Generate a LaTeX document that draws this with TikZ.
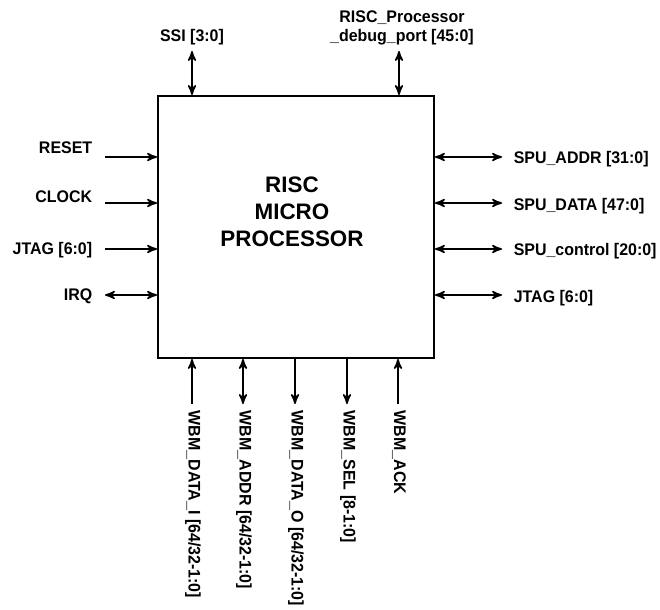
\documentclass[tikz,border=0pt]{standalone}
\usepackage{fontspec}
\setmainfont{Liberation Sans}
\newfontfamily\pinfont{Liberation Sans}[FakeStretch=0.95]
\usetikzlibrary{arrows}

\begin{document}
\begin{tikzpicture}[x=0.5pt, y=-0.5pt, >=stealth', line width=0.8pt]
\useasboundingbox (0,0) rectangle (660,610);

% the processor block
\node[draw, line width=1pt, inner sep=0pt, minimum width=138pt, minimum height=131pt,
      anchor=north west] (cpu) at (157,95) {};
\node[font=\bfseries\fontsize{11.2}{13.4}\selectfont, align=center] (title) at (292,212)
      {RISC\\MICRO\\PROCESSOR};

\tikzstyle{every node}=[inner sep=0pt, font=\pinfont\bfseries\fontsize{8.4}{9.6}\selectfont]

% left side
\draw    (93,  148)   node[anchor=east] (reset)  {RESET}
         (93,  197)   node[anchor=east] (clock)  {CLOCK}
         (93,  250)   node[anchor=east] (jtagin) {JTAG [6:0]}
         (93,  296)   node[anchor=east] (irq)    {IRQ};

\coordinate (resetEnd)  at (105, 157);
\coordinate (clockEnd)  at (105, 203);
\coordinate (jtaginEnd) at (105, 249);
\coordinate (irqEnd)    at (105, 295);

\draw[->]  (resetEnd)  -- (resetEnd -| cpu.west);
\draw[->]  (clockEnd)  -- (clockEnd -| cpu.west);
\draw[->]  (jtaginEnd) -- (jtaginEnd -| cpu.west);
\draw[<->] (irqEnd)    -- (irqEnd -| cpu.west);

% right side
\draw    (513, 159)   node[anchor=west] (spuaddr) {SPU\_ADDR [31:0]}
         (513, 206)   node[anchor=west] (spudata) {SPU\_DATA [47:0]}
         (513, 251)   node[anchor=west] (spuctrl) {SPU\_control [20:0]}
         (513, 298)   node[anchor=west] (jtagout) {JTAG [6:0]};

\coordinate (spuaddrEnd) at (502, 157);
\coordinate (spudataEnd) at (502, 203);
\coordinate (spuctrlEnd) at (502, 249);
\coordinate (jtagoutEnd) at (502, 295);

\draw[<->] (spuaddrEnd -| cpu.east) -- (spuaddrEnd);
\draw[<->] (spudataEnd -| cpu.east) -- (spudataEnd);
\draw[<->] (spuctrlEnd -| cpu.east) -- (spuctrlEnd);
\draw[<->] (jtagoutEnd -| cpu.east) -- (jtagoutEnd);

% top side
\draw    (192, 37)    node (ssi)   {SSI [3:0]}
         (402, 28)    node[align=center] (debug) {RISC\_Processor\\\_debug\_port [45:0]};

\coordinate (ssiEnd)   at (192, 51);
\coordinate (debugEnd) at (399, 51);

\draw[<->] (ssiEnd)   -- (ssiEnd |- cpu.north);
\draw[<->] (debugEnd) -- (debugEnd |- cpu.north);

% bottom side
\tikzstyle{every node}=[inner sep=0pt, rotate=-90, anchor=west,
                        font=\pinfont\bfseries\fontsize{8.4}{9.6}\selectfont]
\draw    (193, 410)   node (wbmdatai) {WBM\_DATA\_I [64/32-1:0]}
         (244, 410)   node (wbmaddr)  {WBM\_ADDR [64/32-1:0]}
         (296, 410)   node (wbmdatao) {WBM\_DATA\_O [64/32-1:0]}
         (348, 410)   node (wbmsel)   {WBM\_SEL [8-1:0]}
         (399, 410)   node (wbmack)   {WBM\_ACK};

\coordinate (wbmdataiEnd) at (192, 404);
\coordinate (wbmaddrEnd)  at (243, 404);
\coordinate (wbmdataoEnd) at (295, 404);
\coordinate (wbmselEnd)   at (347, 404);
\coordinate (wbmackEnd)   at (398, 404);

\draw[->]  (wbmdataiEnd) -- (wbmdataiEnd |- cpu.south);
\draw[<->] (wbmaddrEnd)  -- (wbmaddrEnd |- cpu.south);
\draw[<-]  (wbmdataoEnd) -- (wbmdataoEnd |- cpu.south);
\draw[<-]  (wbmselEnd)   -- (wbmselEnd |- cpu.south);
\draw[->]  (wbmackEnd)   -- (wbmackEnd |- cpu.south);

\end{tikzpicture}
\end{document}
